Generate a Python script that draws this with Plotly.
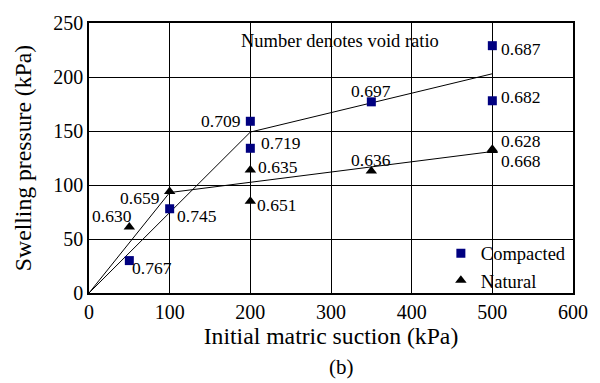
import plotly.graph_objects as go

# Data
comp_x = [50, 100, 200, 200, 350, 500, 500]
comp_y = [30, 78, 159, 134, 177, 229, 178]
comp_lbl = ["0.767", "0.745", "0.709", "0.719", "0.697", "0.687", "0.682"]

nat_x = [50, 100, 200, 200, 350, 500, 500]
nat_y = [61, 94, 114, 85, 113, 133, 132]
nat_lbl = ["0.630", "0.659", "0.635", "0.651", "0.636", "0.628", "0.668"]

comp_fit_x = [0, 200, 500]
comp_fit_y = [0, 149, 203]
nat_fit_x = [0, 100, 500]
nat_fit_y = [0, 93, 131]

# label offsets (xanchor, xshift, yshift) in pixels
comp_off = [("left", 1, -7), ("left", 5, -7), ("right", -7, 0), ("left", 9, 5),
            ("center", 0, 11), ("left", 7, -3), ("left", 7, 4)]
nat_off = [("center", -17, 11), ("right", -8, -7), ("left", 6, 3), ("left", 5, -4),
           ("center", 0, 11), ("left", 7, 8), ("left", 7, -11)]

FONT = "Liberation Serif"

fig = go.Figure()
fig.add_trace(go.Scatter(x=comp_fit_x, y=comp_fit_y, mode="lines",
                         line=dict(color="black", width=1), showlegend=False, hoverinfo="skip"))
fig.add_trace(go.Scatter(x=nat_fit_x, y=nat_fit_y, mode="lines",
                         line=dict(color="black", width=1), showlegend=False, hoverinfo="skip"))
fig.add_trace(go.Scatter(x=comp_x, y=comp_y, mode="markers", name="Compacted",
                         marker=dict(symbol="square", size=9, color="#000080")))
fig.add_trace(go.Scatter(x=nat_x, y=nat_y, mode="markers", name="Natural",
                         marker=dict(symbol="triangle-up", size=10, color="black")))

ann = []
for xs, ys, ls, offs in [(comp_x, comp_y, comp_lbl, comp_off), (nat_x, nat_y, nat_lbl, nat_off)]:
    for x, y, t, (xa, dx, dy) in zip(xs, ys, ls, offs):
        ann.append(dict(x=x, y=y, text=t, showarrow=False, xanchor=xa, yanchor="middle",
                        xshift=dx, yshift=dy, font=dict(family=FONT, size=17.5, color="black")))
ann.append(dict(x=311, y=233, text="Number denotes void ratio", showarrow=False,
                xanchor="center", yanchor="middle", font=dict(family=FONT, size=18.5, color="black")))
ann.append(dict(x=0.521, y=-0.274, xref="paper", yref="paper", text="(b)", showarrow=False,
                xanchor="center", yanchor="middle", font=dict(family=FONT, size=21, color="black")))

fig.update_layout(
    width=600, height=383,
    margin=dict(l=89, r=27, t=14, b=90),
    paper_bgcolor="white", plot_bgcolor="white",
    font=dict(family=FONT, color="black"),
    annotations=ann,
    legend=dict(x=0.727, y=-0.025, xanchor="left", yanchor="bottom",
                bgcolor="rgba(0,0,0,0)", font=dict(family=FONT, size=18.5, color="black"),
                tracegroupgap=0, itemwidth=30),
    xaxis=dict(range=[0, 600], dtick=100, showgrid=True, gridcolor="black", gridwidth=1,
               showline=True, linecolor="black", linewidth=1.5, mirror=True,
               zeroline=False, ticks="", tickfont=dict(family=FONT, size=20),
               title=dict(text="Initial matric suction (kPa)", font=dict(family=FONT, size=23.7), standoff=5)),
    yaxis=dict(range=[0, 250], dtick=50, showgrid=True, gridcolor="black", gridwidth=1,
               showline=True, linecolor="black", linewidth=1.5, mirror=True,
               zeroline=False, ticks="", tickfont=dict(family=FONT, size=20),
               title=dict(text="Swelling pressure (kPa)", font=dict(family=FONT, size=23.7), standoff=15)),
)

fig.write_html("out.html")
